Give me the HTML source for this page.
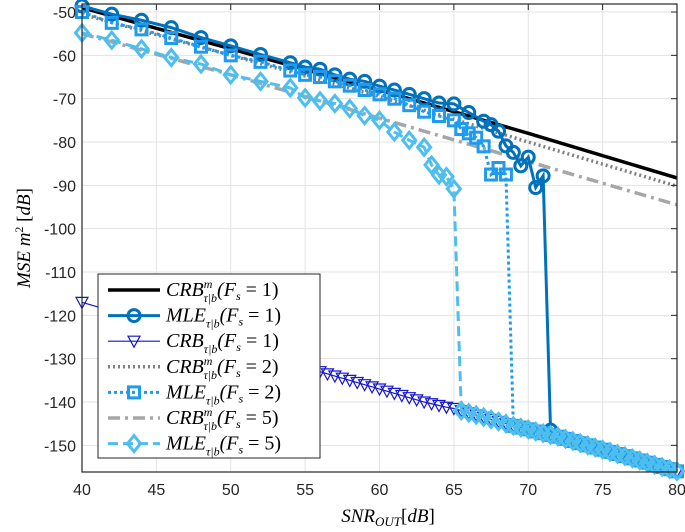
<!DOCTYPE html>
<html><head><meta charset="utf-8"><style>
body{margin:0;background:#fff}
svg text{font-family:"Liberation Sans",sans-serif}
.m{font-family:"Liberation Serif",serif;font-style:italic}
</style></head><body>
<svg id="c" width="685" height="527" viewBox="0 0 685 527">
<rect x="82" y="4" width="595" height="468" fill="#fff"/>
<g id="grid"></g>
<g id="series"></g>
<g id="axes"></g>
<text class="m" x="388" y="522" font-size="19" text-anchor="middle">SNR<tspan font-size="13" dy="4">OUT</tspan><tspan dy="-4" font-style="normal">[</tspan>dB<tspan font-style="normal">]</tspan></text>
<text class="m" transform="translate(30,238) rotate(-90)" font-size="19" text-anchor="middle">MSE m<tspan font-size="12" dy="-7" font-style="normal">2</tspan><tspan dy="7" font-style="normal"> [</tspan>dB<tspan font-style="normal">]</tspan></text>
<g id="legend"></g>
</svg>
<script>
const xTicks=[40,45,50,55,60,65,70,75,80];
const yTicks=[-50,-60,-70,-80,-90,-100,-110,-120,-130,-140,-150];
const crb1X=[40,50,60,70,80], crb1Y=[-49,-58.5,-68,-78,-88.3];
const crb2X=[40,50,60,70,80], crb2Y=[-50.5,-60,-69.5,-80,-90.2];
const crb5X=[40,50,60,70,80], crb5Y=[-55,-64.5,-74.5,-84.5,-94.5];
const lowX=[40,55,55.5,56,56.5,57,57.5,58,58.5,59,59.5,60,60.5,61,61.5,62,62.5,63,63.5,64,64.5,65,65.5,66,66.5,67,67.5,68,68.5,69,69.5,70,70.5,71,71.5,72,72.5,73,73.5,74,74.5,75,75.5,76,76.5,77,77.5,78,78.5,79,79.5,80];
const lowY=[-117,-132,-132.5,-133,-133.5,-134,-134.5,-135,-135.5,-136,-136.5,-137,-137.5,-138,-138.5,-139,-139.5,-140,-140.4,-140.8,-141.2,-141.5,-142,-142.5,-143,-143.5,-144,-144.5,-145,-145.5,-145.9,-146.3,-146.8,-147.2,-147.6,-148,-148.5,-149,-149.5,-150,-150.5,-151,-151.5,-152,-152.5,-153,-153.5,-154,-154.5,-155,-155.5,-156];
const mle1X=[40,42,44,46,48,50,52,54,55,56,57,58,59,60,61,62,63,64,65,66,67,67.5,68,68.5,69,69.5,70,70.5,71,71.5,72,72.5,73,73.5,74,74.5,75,75.5,76,76.5,77,77.5,78,78.5,79,79.5,80];
const mle1Y=[-48.6,-50.5,-51.9,-53.6,-55.9,-57.8,-59.8,-61.7,-62.7,-63.2,-64.5,-65.5,-66,-67.1,-68,-69,-70,-71,-71.2,-73.2,-75.2,-76,-77.5,-80.9,-82.4,-85.5,-83.5,-90.5,-87.8,-146.5,-148,-148.5,-149,-149.5,-150,-150.5,-151,-151.5,-152,-152.5,-153,-153.5,-154,-154.5,-155,-155.5,-156];
const mle2X=[40,42,44,46,48,50,52,54,55,56,57,58,59,60,61,62,63,64,65,65.5,66,66.5,67,67.5,68,68.5,69,69.5,70,70.5,71,71.5,72,72.5,73,73.5,74,74.5,75,75.5,76,76.5,77,77.5,78,78.5,79,79.5,80];
const mle2Y=[-50,-52.5,-54,-56,-58,-60,-61.5,-63.5,-64.5,-65,-66,-67,-68,-69,-70,-71.5,-73,-74,-75,-77,-78,-79,-81,-87.5,-86,-87.5,-145.5,-145.9,-146.3,-146.8,-147.2,-147.6,-148,-148.5,-149,-149.5,-150,-150.5,-151,-151.5,-152,-152.5,-153,-153.5,-154,-154.5,-155,-155.5,-156];
const mle5X=[40,42,44,46,48,50,52,54,55,56,57,58,59,60,61,62,63,63.5,64,64.5,65,65.5,66,66.5,67,67.5,68,68.5,69,69.5,70,70.5,71,71.5,72,72.5,73,73.5,74,74.5,75,75.5,76,76.5,77,77.5,78,78.5,79,79.5,80];
const mle5Y=[-54.8,-56.5,-58.5,-60.5,-62,-64.5,-66,-67.5,-69.8,-70.5,-71.1,-72.3,-73.9,-75,-77.7,-79.6,-81.2,-85.3,-87.6,-88,-90.8,-142,-142.5,-143,-143.5,-144,-144.5,-145,-145.5,-145.9,-146.3,-146.8,-147.2,-147.6,-148,-148.5,-149,-149.5,-150,-150.5,-151,-151.5,-152,-152.5,-153,-153.5,-154,-154.5,-155,-155.5,-156];

const X0=82,X1=677,Y0=4,Y1=472,XMIN=40,XMAX=80,YMAX=-48.15,YMIN=-156.15;
const sx=v=>X0+(v-XMIN)/(XMAX-XMIN)*(X1-X0);
const sy=v=>Y0+(YMAX-v)/(YMAX-YMIN)*(Y1-Y0);
const NS='http://www.w3.org/2000/svg';
function mk(tag,attrs,parent){const e=document.createElementNS(NS,tag);for(const k in attrs)e.setAttribute(k,attrs[k]);parent.appendChild(e);return e;}
const grid=document.getElementById('grid'),axes=document.getElementById('axes'),ser=document.getElementById('series'),leg=document.getElementById('legend');
xTicks.forEach(t=>{
 const l=mk('line',{x1:sx(t),x2:sx(t),y1:Y0,y2:Y1,stroke:'#e3e3e3','stroke-width':1},grid);
 
 const tk=mk('line',{x1:sx(t),x2:sx(t),y1:Y0,y2:Y0+6,stroke:'#262626'},axes);
 
 const tx=mk('text',{x:sx(t),y:Y1+23,'font-size':16,'text-anchor':'middle',fill:'#262626'},axes);tx.textContent=t;
 
});
yTicks.forEach(t=>{
 const l=mk('line',{x1:X0,x2:X1,y1:sy(t),y2:sy(t),stroke:'#e3e3e3','stroke-width':1},grid);
 
 const tk=mk('line',{x1:X1-6,x2:X1,y1:sy(t),y2:sy(t),stroke:'#262626'},axes);
 
 const tx=mk('text',{x:X0-6,y:sy(t)+6,'font-size':16,'text-anchor':'end',fill:'#262626'},axes);tx.textContent=t;
 
});
const fr=mk('rect',{x:X0,y:Y0,width:X1-X0,height:Y1-Y0,fill:'none',stroke:'#262626','stroke-width':1.2},axes);


function marker(type,x,y,color,sw,g){
 let e;
 if(type==='o')e=mk('circle',{cx:x,cy:y,r:6,fill:'none',stroke:color,'stroke-width':sw},g);
 else if(type==='s')e=mk('rect',{x:x-5.5,y:y-5.5,width:11,height:11,fill:'none',stroke:color,'stroke-width':sw},g);
 else if(type==='d')e=mk('path',{d:`M${x},${y-8}L${x+6.5},${y}L${x},${y+8}L${x-6.5},${y}Z`,fill:'none',stroke:color,'stroke-width':sw},g);
 else if(type==='v')e=mk('path',{d:`M${x-6},${y-5}L${x+6},${y-5}L${x},${y+6}Z`,fill:'none',stroke:color,'stroke-width':sw},g);
 return e;
}
function series(name,xs,ys,color,w,dash,mt,msw){
 const g=mk('g',{},ser);
 const p=mk('polyline',{points:xs.map((x,i)=>sx(x)+','+sy(ys[i])).join(' '),fill:'none',stroke:color,'stroke-width':w,'stroke-dasharray':dash||'none'},g);
 
 if(mt)xs.forEach((x,i)=>{const m=marker(mt,sx(x),sy(ys[i]),color,msw,g);
  });
}
series('crb-tau-b-fs1',lowX,lowY,'#1515d0',1.2,null,'v',1.2);
series('crb-m-fs1',crb1X,crb1Y,'#000',3.5,null,null);
series('crb-m-fs2',crb2X,crb2Y,'#808080',3.5,'2 3',null);
series('crb-m-fs5',crb5X,crb5Y,'#a6a6a6',3.5,'12 5 3 5',null);
series('mle-fs1',mle1X,mle1Y,'#0072BD',3,null,'o',3);
series('mle-fs2',mle2X,mle2Y,'#1E9BEF',3,'3 3','s',3);
series('mle-fs5',mle5X,mle5Y,'#4DBEEE',3,'10 5','d',3);

// legend
const lb=mk('rect',{x:98,y:274,width:222,height:184,fill:'#fff',stroke:'#262626','stroke-width':1},leg);

const items=[
 ['CRB','m','1','#000',3.5,null,null],
 ['MLE','','1','#0072BD',3,null,'o'],
 ['CRB','','1','#1515d0',1.2,null,'v'],
 ['CRB','m','2','#808080',3.5,'2 3',null],
 ['MLE','','2','#1E9BEF',3,'3 3','s'],
 ['CRB','m','5','#a6a6a6',3.5,'12 5 3 5',null],
 ['MLE','','5','#4DBEEE',3,'10 5','d']];
items.forEach((it,i)=>{
 const y=290+i*25.6;
 const g=mk('g',{},leg);
 mk('line',{x1:108,x2:160,y1:y,y2:y,stroke:it[3],'stroke-width':it[4],'stroke-dasharray':it[5]||'none'},g);
 if(it[6])marker(it[6],134,y,it[3],it[4]>2?3:1.2,g);
 const t=mk('text',{x:166,y:y+6,'font-size':20,'class':'m'},g);
 t.innerHTML=it[0]+(it[1]?`<tspan font-size="12" dy="-8">m</tspan><tspan font-size="12" dx="-9" dy="14">τ|b</tspan><tspan dy="-6">(</tspan>`:`<tspan font-size="12" dy="6">τ|b</tspan><tspan dy="-6">(</tspan>`)+`F<tspan font-size="12" dy="4">s</tspan><tspan dy="-4" font-style="normal"> = ${it[2]})</tspan>`;
});
</script>
</body></html>
